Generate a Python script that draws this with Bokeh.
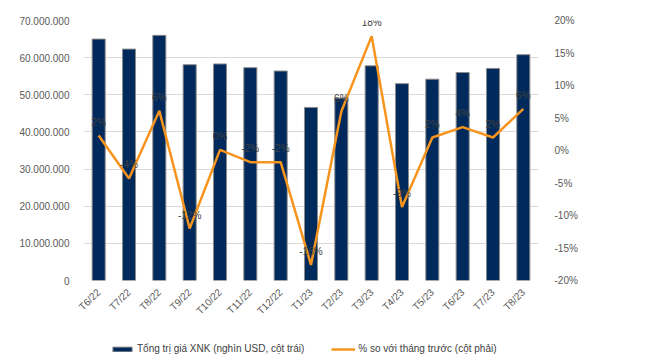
from bokeh.plotting import figure
from bokeh.layouts import column
from bokeh.models import (Range1d, LinearAxis, CustomJSTickFormatter, PrintfTickFormatter,
                          FixedTicker, Legend, LegendItem, ColumnDataSource, FactorRange)
from bokeh.core.properties import value
from bokeh.embed import file_html
from bokeh.resources import INLINE
import math

months = ["T6/22", "T7/22", "T8/22", "T9/22", "T10/22", "T11/22", "T12/22", "T1/23",
          "T2/23", "T3/23", "T4/23", "T5/23", "T6/23", "T7/23", "T8/23"]
total_value = [65000000, 62300000, 66000000, 58100000, 58300000, 57300000, 56400000, 46600000,
               49100000, 57800000, 53000000, 54200000, 56000000, 57100000, 60800000]
pct_change = [2.3, -4.3, 6.1, -12.0, 0.1, -1.8, -1.8, -17.6,
              6.0, 17.6, -8.7, 2.0, 3.6, 2.0, 6.4]
pct_labels = ["2%", "-4%", "6%", "-12%", "0%", "-2%", "-2%", "-18%",
              "6%", "18%", "-9%", "2%", "4%", "2%", "6%"]
series_names = ["Tổng trị giá XNK (nghìn USD, cột trái)", "% so với tháng trước (cột phải)"]

FONT = "Liberation Sans"
TXT = "#595959"
BAR_FILL = "#002A5C"
BAR_LINE = "#8c8c8c"
LINE_COL = "#F7941D"

src = ColumnDataSource(dict(m=months, v=total_value, p=pct_change, lab=pct_labels))
xr = FactorRange(*months, range_padding=0)

p = figure(x_range=xr, y_range=Range1d(0, 70000000),
           width=648, height=323, output_backend="svg", toolbar_location=None,
           min_border_left=83, min_border_right=110, min_border_top=20, min_border_bottom=38)
p.outline_line_color = None
p.extra_y_ranges = {"pct": Range1d(-20, 20)}

p.vbar(x="m", top="v", width=0.43, source=src, fill_color=BAR_FILL,
       line_color=BAR_LINE, line_width=1)
p.line(x="m", y="p", source=src, y_range_name="pct", line_color=LINE_COL, line_width=2.5)
p.text(x="m", y="p", text="lab", source=src, y_range_name="pct", y_offset=-8,
       text_align="center", text_baseline="bottom", text_font=value(FONT),
       text_font_size="10px", text_color="#404040")

# left axis
yl = p.yaxis[0]
yl.ticker = FixedTicker(ticks=[i * 10000000 for i in range(8)])
yl.formatter = CustomJSTickFormatter(code="return tick.toFixed(0).replace(/\\B(?=(\\d{3})+(?!\\d))/g, '.');")
# right axis
yr = LinearAxis(y_range_name="pct", ticker=FixedTicker(ticks=list(range(-20, 21, 5))),
                formatter=PrintfTickFormatter(format="%d%%"))
p.add_layout(yr, "right")

xa = p.xaxis[0]
for ax in [yl, yr, xa]:
    ax.axis_line_color = None
    ax.major_tick_line_color = None
    ax.minor_tick_line_color = None
    ax.major_label_text_font = FONT
    ax.major_label_text_font_size = "10px"
    ax.major_label_text_color = TXT
yl.major_label_standoff = 8
yr.major_label_standoff = 10
xa.major_label_orientation = math.pi / 4
xa.major_label_standoff = 4

p.xgrid.grid_line_color = None
p.ygrid.grid_line_color = "#d9d9d9"
p.ygrid.grid_line_width = 1

# legend strip below the chart: same series drawn with a y-range that keeps them out of view,
# so only their legend swatches show
lg = figure(width=648, height=39, output_backend="svg", toolbar_location=None,
            x_range=xr, y_range=Range1d(1e9, 1e9 + 1),
            x_axis_location=None, y_axis_location=None,
            min_border_left=83, min_border_right=110, min_border_top=0, min_border_bottom=0)
lg.outline_line_color = None
lg.grid.visible = False
r_bar = lg.vbar(x="m", top="v", width=0.43, source=src, fill_color=BAR_FILL,
                line_color=BAR_LINE, line_width=1)
r_line = lg.line(x="m", y="p", source=src, line_color=LINE_COL, line_width=2.5)

legend = Legend(items=[LegendItem(label=series_names[0], renderers=[r_bar]),
                       LegendItem(label=series_names[1], renderers=[r_line])],
                orientation="horizontal", location=(27, 8), spacing=27,
                glyph_width=24, glyph_height=6, label_standoff=3,
                label_text_font=FONT, label_text_font_size="10px", label_text_color="#404040",
                border_line_color=None, background_fill_alpha=0, padding=0, margin=0)
lg.add_layout(legend, "center")

layout = column(p, lg, spacing=0)
open("out.html", "w").write(file_html(layout, INLINE))
